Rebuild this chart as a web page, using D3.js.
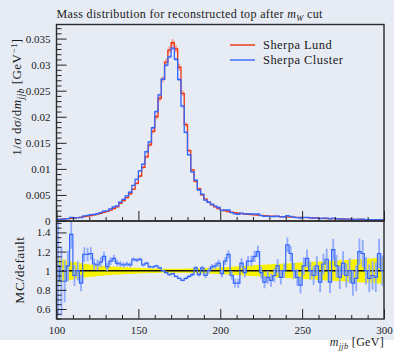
<!DOCTYPE html>
<html>
<head>
<meta charset="utf-8">
<script src="https://cdn.jsdelivr.net/npm/d3@7"></script>
<style>
  html, body { margin: 0; padding: 0; background: #ffffff; }
  svg { display: block; }
  text { font-family: "Liberation Serif", serif; fill: #1a1a1a; }
</style>
</head>
<body>
<svg id="chart" width="394" height="351"></svg>
<script>
// Binning of the reconstructed top mass, m_jjb [GeV]
const massStart = 100;
const massEnd = 300;
const binWidth = 2;

// Normalised distribution, Sherpa Lund (reference), one value per 2 GeV bin
const lund = [
  0.00030, 0.00034, 0.00040, 0.00044, 0.00050, 0.00058, 0.00066, 0.00074, 0.00083, 0.00093,
  0.00104, 0.00117, 0.00131, 0.00147, 0.00165, 0.00186, 0.00210, 0.00238, 0.00270, 0.00340,
  0.0039, 0.0045, 0.0052, 0.0061, 0.0072, 0.0086, 0.0103, 0.0123, 0.0146, 0.0172,
  0.0200, 0.0235, 0.0272, 0.0305, 0.0328, 0.0342, 0.0330, 0.0295, 0.0245, 0.0185,
  0.0135, 0.0098, 0.0076, 0.0062, 0.0050, 0.0042, 0.0036, 0.0031, 0.0027, 0.0024,
  0.00210, 0.00195, 0.00180, 0.00168, 0.00158, 0.00149, 0.00141, 0.00134, 0.00128, 0.00122,
  0.00117, 0.00112, 0.00107, 0.00103, 0.00099, 0.00095, 0.00091, 0.00088, 0.00085, 0.00082,
  0.00079, 0.00076, 0.00073, 0.00070, 0.00068, 0.00065, 0.00063, 0.00061, 0.00058, 0.00056,
  0.00052, 0.00050, 0.00048, 0.00046, 0.00044, 0.00042, 0.00040, 0.00038, 0.00036, 0.00035,
  0.00033, 0.00032, 0.00030, 0.00029, 0.00028, 0.00027, 0.00025, 0.00024, 0.00023, 0.00022
];

// Sherpa Cluster divided by Sherpa Lund, per bin
const ratio = [
  1.05, 0.89, 0.89, 1.05, 1.38, 0.95, 1.00, 0.87, 1.17, 1.17,
  1.18, 1.07, 1.06, 1.09, 1.15, 1.04, 1.10, 1.13, 1.08, 1.07,
  1.06, 1.07, 1.06, 1.12, 1.11, 1.12, 1.06, 1.08, 1.04, 1.04,
  1.05, 1.03, 1.00, 0.98, 0.96, 0.97, 0.94, 0.92, 0.90, 0.92,
  0.94, 0.96, 1.03, 0.96, 1.03, 0.95, 1.00, 1.04, 1.05, 1.08,
  0.97, 1.10, 1.17, 0.95, 0.87, 0.87, 1.08, 0.98, 1.10, 1.10,
  1.15, 1.20, 0.98, 0.88, 0.93, 0.90, 0.95, 1.05, 0.93, 1.00,
  1.27, 1.18, 1.00, 0.93, 0.85, 1.05, 1.13, 1.00, 0.95, 1.05,
  0.88, 1.07, 1.12, 0.88, 1.22, 1.05, 0.93, 1.08, 0.95, 1.00,
  0.87, 0.92, 1.20, 1.18, 1.00, 0.92, 0.95, 0.93, 1.18, 1.00
];

// Relative statistical uncertainty of Sherpa Cluster (blue error bars)
const ratioErr = [
  0.52, 0.36, 0.22, 0.16, 0.15, 0.11, 0.10, 0.085, 0.075, 0.070,
  0.065, 0.058, 0.055, 0.050, 0.047, 0.042, 0.040, 0.037, 0.034, 0.031,
  0.029, 0.027, 0.025, 0.022, 0.021, 0.019, 0.017, 0.015, 0.014, 0.013,
  0.012, 0.011, 0.010, 0.010, 0.009, 0.009, 0.009, 0.010, 0.011, 0.012,
  0.014, 0.016, 0.019, 0.021, 0.023, 0.026, 0.028, 0.031, 0.033, 0.035,
  0.037, 0.040, 0.041, 0.044, 0.046, 0.047, 0.050, 0.052, 0.053, 0.056,
  0.058, 0.060, 0.061, 0.064, 0.066, 0.067, 0.070, 0.071, 0.074, 0.076,
  0.078, 0.081, 0.084, 0.086, 0.088, 0.091, 0.093, 0.095, 0.098, 0.101,
  0.104, 0.106, 0.109, 0.112, 0.114, 0.117, 0.120, 0.123, 0.126, 0.129,
  0.132, 0.134, 0.137, 0.140, 0.143, 0.146, 0.149, 0.152, 0.155, 0.158
];

// Relative uncertainty of the Sherpa Lund reference (yellow band)
const refErr = [
  0.13, 0.12, 0.115, 0.105, 0.095, 0.09, 0.085, 0.078, 0.072, 0.067,
  0.063, 0.060, 0.056, 0.053, 0.050, 0.048, 0.045, 0.043, 0.041, 0.039,
  0.037, 0.035, 0.033, 0.031, 0.030, 0.028, 0.027, 0.026, 0.025, 0.024,
  0.023, 0.022, 0.021, 0.021, 0.020, 0.020, 0.020, 0.021, 0.021, 0.022,
  0.023, 0.024, 0.025, 0.026, 0.027, 0.028, 0.030, 0.031, 0.033, 0.034,
  0.036, 0.038, 0.040, 0.042, 0.045, 0.046, 0.048, 0.050, 0.052, 0.055,
  0.057, 0.059, 0.061, 0.063, 0.065, 0.067, 0.069, 0.071, 0.073, 0.075,
  0.077, 0.079, 0.081, 0.083, 0.085, 0.087, 0.089, 0.091, 0.093, 0.095,
  0.097, 0.099, 0.101, 0.103, 0.105, 0.107, 0.109, 0.111, 0.113, 0.115,
  0.117, 0.119, 0.121, 0.123, 0.125, 0.127, 0.129, 0.131, 0.133, 0.135
];

// Axis ticks and labels
const xMajorTicks = [100, 150, 200, 250, 300];
const xMajorLabels = ["100", "150", "200", "250", "300"];
const yMainTicks = [0, 0.005, 0.01, 0.015, 0.02, 0.025, 0.03, 0.035];
const yMainLabels = ["0", "0.005", "0.01", "0.015", "0.02", "0.025", "0.03", "0.035"];
const yRatioTicks = [0.6, 0.8, 1.0, 1.2, 1.4];
const yRatioLabels = ["0.6", "0.8", "1", "1.2", "1.4"];

const seriesNames = ["Sherpa Lund", "Sherpa Cluster"];
const seriesColors = ["#ee3311", "#3366ff"];
const seriesErrColors = ["#f5a595", "#9db5ff"];

// ----- derived series -----
const edges = d3.range(massStart, massEnd + binWidth / 2, binWidth);
const cluster = lund.map((v, i) => v * ratio[i]);

// ----- layout -----
const L = 56.5, R = 384, T = 24.5, MB = 221, RB = 319;

const svg = d3.select("#chart");
svg.append("rect").attr("x", 0).attr("y", 0).attr("width", 394).attr("height", 340)
  .attr("fill", "#e6ebf4");

const x = d3.scaleLinear().domain([massStart, massEnd]).range([L, R]);
const y = d3.scaleLinear().domain([0, 0.0377]).range([MB, T]);
const yr = d3.scaleLinear().domain([0.4955, 1.5195]).range([RB, MB]);

const defs = svg.append("defs");
defs.append("clipPath").attr("id", "clipMain")
  .append("rect").attr("x", L).attr("y", T).attr("width", R - L).attr("height", MB - T);
defs.append("clipPath").attr("id", "clipRatio")
  .append("rect").attr("x", L).attr("y", MB).attr("width", R - L).attr("height", RB - MB);

// step path through bin edges
function stepLine(vals, ys) {
  const pts = vals.map((v, i) => [edges[i], v]);
  pts.push([edges[vals.length], vals[vals.length - 1]]);
  return d3.line().x(d => x(d[0])).y(d => ys(d[1])).curve(d3.curveStepAfter)(pts);
}

// ----- main panel -----
const gMain = svg.append("g").attr("clip-path", "url(#clipMain)");

// faint error bars
[[lund, lund.map((v, i) => v * refErr[i])], [cluster, lund.map((v, i) => v * ratioErr[i])]]
  .forEach(([vals, errs], s) => {
    gMain.append("g").selectAll("line").data(vals).join("line")
      .attr("x1", (d, i) => x(edges[i] + binWidth / 2))
      .attr("x2", (d, i) => x(edges[i] + binWidth / 2))
      .attr("y1", (d, i) => y(d - errs[i]))
      .attr("y2", (d, i) => y(d + errs[i]))
      .attr("stroke", seriesErrColors[s]).attr("stroke-width", 2.2);
  });

[lund, cluster].forEach((vals, s) => {
  gMain.append("path").attr("d", stepLine(vals, y))
    .attr("fill", "none").attr("stroke", seriesColors[s]).attr("stroke-width", 1.3);
});

// ----- ratio panel -----
const gRatio = svg.append("g").attr("clip-path", "url(#clipRatio)");

const bandPts = refErr.map((e, i) => [edges[i], e]);
bandPts.push([edges[refErr.length], refErr[refErr.length - 1]]);
gRatio.append("path")
  .attr("d", d3.area().x(d => x(d[0])).y0(d => yr(1 - d[1])).y1(d => yr(1 + d[1]))
    .curve(d3.curveStepAfter)(bandPts))
  .attr("fill", "#f7f200");

gRatio.append("line").attr("x1", x(massStart)).attr("x2", x(massEnd))
  .attr("y1", yr(1)).attr("y2", yr(1)).attr("stroke", "#111").attr("stroke-width", 1.4);

gRatio.append("g").selectAll("line").data(ratio).join("line")
  .attr("x1", (d, i) => x(edges[i] + binWidth / 2))
  .attr("x2", (d, i) => x(edges[i] + binWidth / 2))
  .attr("y1", (d, i) => yr(d - ratioErr[i]))
  .attr("y2", (d, i) => yr(d + ratioErr[i]))
  .attr("stroke", "#8fa9ff").attr("stroke-width", 1.8);

gRatio.append("path").attr("d", stepLine(ratio, yr))
  .attr("fill", "none").attr("stroke", "#3366ff").attr("stroke-width", 1.2);

// ----- axes (ticks point into the panels) -----
const tickColor = "#222";
function styleAxis(g) {
  g.select(".domain").remove();
  g.selectAll(".tick line").attr("stroke", tickColor).attr("stroke-width", 1);
  g.selectAll(".tick text").attr("font-family", "Liberation Serif, serif")
    .attr("font-size", 11).attr("fill", "#1a1a1a");
}

const xMinor = d3.range(massStart, massEnd + 1, 10).filter(v => !xMajorTicks.includes(v));
const yMainMinor = d3.range(0, 0.0375, 0.001).filter(v => Math.abs(v / 0.005 - Math.round(v / 0.005)) > 1e-6);
const yRatioMinor = d3.range(0.5, 1.5001, 0.05).filter(v => Math.abs(v / 0.2 - Math.round(v / 0.2)) > 1e-6);

// main: left
svg.append("g").attr("transform", `translate(${L},0)`)
  .call(d3.axisLeft(y).tickValues(yMainTicks).tickFormat((d, i) => yMainLabels[i])
    .tickSizeInner(-10).tickSizeOuter(0).tickPadding(6))
  .call(styleAxis);
svg.append("g").attr("transform", `translate(${L},0)`)
  .call(d3.axisLeft(y).tickValues(yMainMinor).tickFormat("").tickSizeInner(-5).tickSizeOuter(0))
  .call(styleAxis);
// main: bottom
svg.append("g").attr("transform", `translate(0,${MB})`)
  .call(d3.axisBottom(x).tickValues(xMajorTicks).tickFormat("").tickSizeInner(-10).tickSizeOuter(0))
  .call(styleAxis);
svg.append("g").attr("transform", `translate(0,${MB})`)
  .call(d3.axisBottom(x).tickValues(xMinor).tickFormat("").tickSizeInner(-4).tickSizeOuter(0))
  .call(styleAxis);

// ratio: left
svg.append("g").attr("transform", `translate(${L},0)`)
  .call(d3.axisLeft(yr).tickValues(yRatioTicks).tickFormat((d, i) => yRatioLabels[i])
    .tickSizeInner(-10).tickSizeOuter(0).tickPadding(6))
  .call(styleAxis);
svg.append("g").attr("transform", `translate(${L},0)`)
  .call(d3.axisLeft(yr).tickValues(yRatioMinor).tickFormat("").tickSizeInner(-5).tickSizeOuter(0))
  .call(styleAxis);
// ratio: bottom with labels
svg.append("g").attr("transform", `translate(0,${RB})`)
  .call(d3.axisBottom(x).tickValues(xMajorTicks).tickFormat((d, i) => xMajorLabels[i])
    .tickSizeInner(-10).tickSizeOuter(0).tickPadding(7))
  .call(styleAxis);
svg.append("g").attr("transform", `translate(0,${RB})`)
  .call(d3.axisBottom(x).tickValues(xMinor).tickFormat("").tickSizeInner(-4).tickSizeOuter(0))
  .call(styleAxis);

// frames
svg.append("rect").attr("x", L).attr("y", T).attr("width", R - L).attr("height", MB - T)
  .attr("fill", "none").attr("stroke", "#2a2a2a").attr("stroke-width", 1.4);
svg.append("rect").attr("x", L).attr("y", MB).attr("width", R - L).attr("height", RB - MB)
  .attr("fill", "none").attr("stroke", "#2a2a2a").attr("stroke-width", 1.4);

// ----- title -----
const title = svg.append("text").attr("x", L).attr("y", 18)
  .attr("font-size", 12).attr("letter-spacing", 0.35);
title.append("tspan").text("Mass distribution for reconstructed top after ");
title.append("tspan").attr("font-style", "italic").text("m");
title.append("tspan").attr("font-style", "italic").attr("font-size", 8.5).attr("dy", 2.5).text("W");
title.append("tspan").attr("dy", -2.5).text(" cut");

// ----- legend -----
seriesNames.forEach((name, i) => {
  const ly = 45 + i * 15;
  svg.append("line").attr("x1", 230).attr("x2", 255).attr("y1", ly).attr("y2", ly)
    .attr("stroke", seriesColors[i]).attr("stroke-width", 1.4);
  svg.append("text").attr("x", 263).attr("y", ly + 4).attr("font-size", 12.5)
    .attr("letter-spacing", 0.45).text(name);
});

// ----- axis titles -----
const yl = svg.append("text")
  .attr("transform", "translate(21,97) rotate(-90)")
  .attr("text-anchor", "middle").attr("font-size", 13).attr("letter-spacing", 0.45);
yl.append("tspan").text("1/");
yl.append("tspan").attr("font-style", "italic").text("σ");
yl.append("tspan").text(" d");
yl.append("tspan").attr("font-style", "italic").text("σ");
yl.append("tspan").text("/d");
yl.append("tspan").attr("font-style", "italic").text("m");
yl.append("tspan").attr("font-style", "italic").attr("font-size", 9.5).attr("dy", 2.5).text("jjb");
yl.append("tspan").attr("dy", -2.5).text(" [GeV");
yl.append("tspan").attr("font-size", 9).attr("dy", -4.5).text("−1");
yl.append("tspan").attr("dy", 4.5).text("]");

svg.append("text")
  .attr("transform", "translate(24,270) rotate(-90)")
  .attr("text-anchor", "middle").attr("font-size", 13.5).attr("letter-spacing", 0.5)
  .text("MC/default");

const xl = svg.append("text").attr("x", R).attr("y", 346)
  .attr("text-anchor", "end").attr("font-size", 12).attr("letter-spacing", 0.3);
xl.append("tspan").attr("font-style", "italic").text("m");
xl.append("tspan").attr("font-style", "italic").attr("font-size", 8.5).attr("dy", 2.5).text("jjb");
xl.append("tspan").attr("dy", -2.5).text(" [GeV]");
</script>
</body>
</html>
